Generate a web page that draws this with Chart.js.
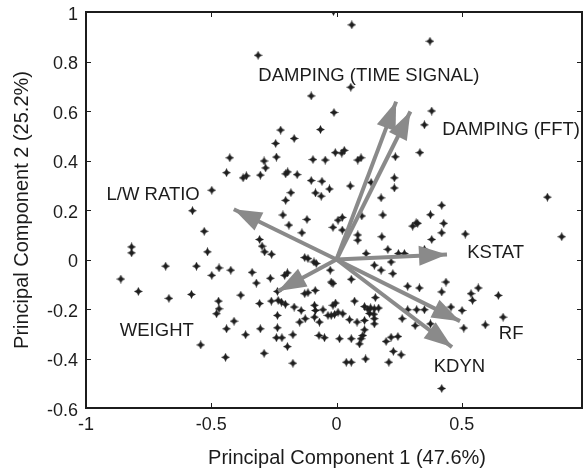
<!DOCTYPE html>
<html><head><meta charset="utf-8">
<script src="https://cdn.jsdelivr.net/npm/chart.js@4.4.1/dist/chart.umd.min.js"></script>
<style>html,body{margin:0;padding:0;background:#fff;}canvas{display:block;}</style>
</head><body>
<canvas id="c" width="583" height="470"></canvas>
<script>
// PCA scores (Principal Component 1, Principal Component 2)
const pcX = [
 -0.012,0.061,0.373,-0.313,0.057,-0.101,-0.010,0.380,0.351,-0.223,-0.064,-0.169,-0.243,-0.426,-0.289,-0.240,-0.094,-0.045,-0.005,0.021,
 0.031,0.085,0.098,0.235,0.333,-0.283,-0.439,-0.373,-0.360,-0.304,-0.203,-0.195,-0.157,-0.101,-0.058,-0.028,-0.084,-0.061,-0.182,-0.203,
 -0.498,-0.575,0.055,0.231,0.231,0.178,0.420,0.842,0.138,-0.214,-0.118,-0.190,-0.014,-0.138,-0.528,-0.307,-0.297,-0.287,-0.259,-0.515,
 -0.818,-0.818,-0.861,-0.791,-0.682,-0.669,-0.579,-0.559,-0.498,-0.469,-0.422,-0.337,-0.320,-0.264,-0.207,-0.196,-0.127,-0.114,-0.090,-0.081,
 -0.021,-0.014,-0.085,-0.127,-0.114,-0.236,-0.382,-0.471,-0.469,-0.479,-0.307,-0.260,-0.233,-0.220,-0.204,-0.169,-0.141,-0.088,-0.084,-0.088,
 -0.054,-0.034,-0.021,-0.008,-0.014,-0.004,-0.236,-0.147,-0.125,-0.068,-0.409,-0.439,-0.304,-0.236,-0.363,-0.240,-0.218,-0.174,-0.070,-0.048,
 -0.196,-0.542,-0.289,-0.443,-0.174,-0.025,0.006,0.023,0.101,0.185,0.375,0.304,0.318,0.324,0.428,0.420,0.514,0.899,0.380,0.181,
 0.085,0.085,0.023,0.205,0.118,0.247,0.271,0.351,0.151,0.178,0.225,0.218,0.059,0.437,0.284,0.331,0.420,0.566,0.537,0.543,
 0.646,0.155,0.072,0.457,0.501,0.665,0.508,0.594,0.112,0.125,0.136,0.151,0.168,0.132,0.149,0.025,0.006,0.052,0.082,0.112,
 0.151,0.151,0.262,0.284,0.320,0.351,0.314,0.375,0.112,0.105,0.098,0.092,0.012,0.059,0.198,0.218,0.245,0.227,0.258,0.039,
 0.059,0.116,0.209,0.420
];
const pcY = [
 1.002,0.948,0.882,0.825,0.696,0.661,0.594,0.600,0.544,0.523,0.525,0.489,0.469,0.411,0.398,0.414,0.404,0.402,0.432,0.430,
 0.441,0.402,0.411,0.415,0.432,0.370,0.351,0.330,0.338,0.341,0.346,0.354,0.343,0.319,0.316,0.285,0.269,0.256,0.270,0.239,
 0.280,0.197,0.297,0.330,0.289,0.249,0.219,0.252,0.311,0.180,0.162,0.139,0.130,0.108,0.114,0.081,0.054,0.031,0.021,0.031,
 0.051,0.027,-0.079,-0.129,-0.027,-0.157,-0.141,-0.027,-0.064,-0.034,-0.043,-0.052,-0.095,-0.076,-0.064,-0.054,0.008,0.004,-0.010,-0.016,
 -0.091,-0.097,-0.125,-0.138,-0.134,-0.129,-0.144,-0.168,-0.199,-0.219,-0.178,-0.168,-0.165,-0.172,-0.181,-0.192,-0.206,-0.185,-0.206,-0.233,
 -0.203,-0.226,-0.226,-0.222,-0.185,-0.176,-0.226,-0.253,-0.239,-0.253,-0.249,-0.280,-0.280,-0.276,-0.304,-0.316,-0.316,-0.304,-0.307,-0.316,
 -0.352,-0.345,-0.379,-0.395,-0.419,-0.043,0.159,0.170,0.176,0.180,0.181,0.135,0.148,0.146,0.146,0.108,0.103,0.092,0.081,0.092,
 0.099,0.078,0.119,0.041,0.024,0.024,0.024,0.041,-0.023,-0.043,-0.057,-0.010,-0.080,-0.091,-0.108,-0.115,-0.131,-0.115,-0.138,-0.165,
 -0.145,-0.154,-0.168,-0.192,-0.206,-0.233,-0.277,-0.264,-0.190,-0.201,-0.195,-0.199,-0.196,-0.218,-0.221,-0.219,-0.213,-0.243,-0.253,-0.246,
 -0.239,-0.260,-0.239,-0.203,-0.203,-0.203,-0.267,-0.260,-0.284,-0.307,-0.320,-0.341,-0.320,-0.320,-0.331,-0.314,-0.311,-0.371,-0.385,-0.415,
 -0.415,-0.402,-0.415,-0.521
];
// Variable loadings (arrow tips)
const arrowNames = ['DAMPING (TIME SIGNAL)','DAMPING (FFT)','L/W RATIO','KSTAT','RF','KDYN','WEIGHT'];
const arrowX = [0.238, 0.295, -0.410, 0.441, 0.493, 0.461, -0.233];
const arrowY = [0.638, 0.598, 0.203, 0.020, -0.249, -0.354, -0.127];
// Label anchors (data units, left edge / vertical middle of text)
const labelX = [-0.312, 0.422, -0.918, 0.522, 0.648, 0.388, -0.865];
const labelY = [0.743, 0.525, 0.261, 0.028, -0.300, -0.432, -0.290];
const xTicks = [-1, -0.5, 0, 0.5];
const yTicks = [-0.6, -0.4, -0.2, 0, 0.2, 0.4, 0.6, 0.8, 1];
const xTitle = 'Principal Component 1 (47.6%)';
const yTitle = 'Principal Component 2 (25.2%)';

const FONT = "'Liberation Sans', Arial, Helvetica, sans-serif";
const ARROW_COLOR = '#8a8a8a';
const INK = '#1c1c1c';

function makeStar() {
  const c = document.createElement('canvas');
  c.width = 9; c.height = 9;
  const g = c.getContext('2d');
  g.fillStyle = '#1e1e1e';
  g.beginPath();
  for (let i = 0; i < 8; i++) {
    const a = -Math.PI / 2 + i * Math.PI / 4;
    const r = i % 2 === 0 ? 4.5 : 2.1;
    g.lineTo(4.5 + r * Math.cos(a), 4.5 + r * Math.sin(a));
  }
  g.closePath();
  g.fill();
  return c;
}
const star = makeStar();

const arrowSets = arrowNames.map((n, i) => ({
  label: n,
  data: [{x: 0, y: 0}, {x: arrowX[i], y: arrowY[i]}],
  showLine: true,
  borderColor: ARROW_COLOR,
  borderWidth: 4,
  pointRadius: 0,
  borderCapStyle: 'butt'
}));

const fmt = v => String(Math.round(v * 10) / 10);

const decorPlugin = {
  id: 'decor',
  afterDatasetsDraw(chart) {
    const {ctx, scales: {x, y}} = chart;
    ctx.save();
    ctx.fillStyle = ARROW_COLOR;
    const L = 28, W = 20;
    for (let i = 0; i < arrowX.length; i++) {
      const ox = x.getPixelForValue(0), oy = y.getPixelForValue(0);
      const tx = x.getPixelForValue(arrowX[i]), ty = y.getPixelForValue(arrowY[i]);
      const len = Math.hypot(tx - ox, ty - oy);
      const ux = (tx - ox) / len, uy = (ty - oy) / len;
      const bx = tx - ux * L, by = ty - uy * L;
      const nx = -uy, ny = ux;
      ctx.beginPath();
      ctx.moveTo(tx, ty);
      ctx.lineTo(bx + nx * W / 2, by + ny * W / 2);
      ctx.lineTo(bx - nx * W / 2, by - ny * W / 2);
      ctx.closePath();
      ctx.fill();
    }
    ctx.fillStyle = INK;
    ctx.font = '18.5px ' + FONT;
    ctx.textAlign = 'left';
    ctx.textBaseline = 'middle';
    for (let i = 0; i < arrowNames.length; i++) {
      ctx.fillText(arrowNames[i], x.getPixelForValue(labelX[i]), y.getPixelForValue(labelY[i]));
    }
    ctx.restore();
  },
  afterDraw(chart) {
    const {ctx, chartArea: a, scales: {x, y}} = chart;
    ctx.save();
    ctx.strokeStyle = INK;
    ctx.lineWidth = 1;
    ctx.beginPath();
    xTicks.forEach(v => {
      const px = Math.round(x.getPixelForValue(v)) + 0.5;
      ctx.moveTo(px, a.bottom); ctx.lineTo(px, a.bottom - 5);
      ctx.moveTo(px, a.top); ctx.lineTo(px, a.top + 5);
    });
    yTicks.forEach(v => {
      const py = Math.round(y.getPixelForValue(v)) + 0.5;
      ctx.moveTo(a.left, py); ctx.lineTo(a.left + 5, py);
      ctx.moveTo(a.right, py); ctx.lineTo(a.right - 5, py);
    });
    ctx.stroke();
    ctx.lineWidth = 2;
    ctx.strokeRect(a.left, a.top, a.right - a.left, a.bottom - a.top);
    // x-axis title (sits slightly right of the axis centre, as in the source figure)
    ctx.fillStyle = INK;
    ctx.font = '20px ' + FONT;
    ctx.textAlign = 'center';
    ctx.textBaseline = 'middle';
    ctx.fillText(xTitle, (a.left + a.right) / 2 + 13, 458);
    ctx.restore();
  }
};

new Chart(document.getElementById('c'), {
  type: 'scatter',
  data: {
    datasets: [
      ...arrowSets,
      {
        label: 'scores',
        data: pcX.map((v, i) => ({x: v, y: pcY[i]})),
        pointStyle: star,
        pointRadius: 4.5,
        pointHoverRadius: 4.5
      }
    ]
  },
  options: {
    responsive: false,
    animation: false,
    devicePixelRatio: 1,
    layout: {autoPadding: false, padding: {top: 12, right: 1, left: 0, bottom: 0}},
    plugins: {legend: {display: false}, tooltip: {enabled: false}},
    scales: {
      x: {
        type: 'linear', min: -1, max: 0.98,
        afterBuildTicks(s) { s.ticks = xTicks.map(v => ({value: v})); },
        afterFit(s) { s.height = 62; s.paddingLeft = 0; s.paddingRight = 0; },
        grid: {display: false, drawTicks: false},
        border: {display: false},
        ticks: {padding: 6, color: INK, font: {family: FONT, size: 18}, callback: fmt, maxRotation: 0, autoSkip: false},
        title: {display: false, text: xTitle}
      },
      y: {
        type: 'linear', min: -0.6, max: 1,
        afterBuildTicks(s) { s.ticks = yTicks.map(v => ({value: v})); },
        afterFit(s) { s.width = 86; s.paddingTop = 0; s.paddingBottom = 0; },
        grid: {display: false, drawTicks: false},
        border: {display: false},
        ticks: {padding: 8, color: INK, font: {family: FONT, size: 18}, callback: fmt, labelOffset: 3, autoSkip: false},
        title: {display: true, text: yTitle, color: INK, font: {family: FONT, size: 20}, padding: {top: 10, bottom: 0}}
      }
    }
  },
  plugins: [decorPlugin]
});
</script>
</body></html>
